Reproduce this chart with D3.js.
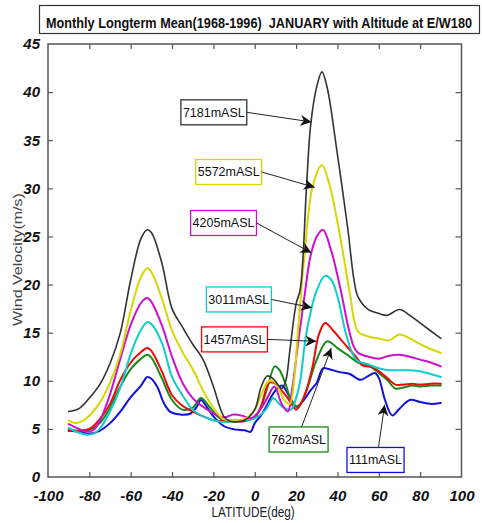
<!DOCTYPE html>
<html>
<head>
<meta charset="utf-8">
<script src="https://cdn.jsdelivr.net/npm/d3@7"></script>
<style>
  html, body { margin: 0; padding: 0; background: #fff; }
  svg { display: block; }
</style>
</head>
<body>
<svg id="chart" width="482" height="523"></svg>
<script>
// ---------- DATA ----------
const titleText = "Monthly Longterm Mean(1968-1996)  JANUARY with Altitude at E/W180";
const xLabel = "LATITUDE(deg)";
const yLabel = "Wind Velocity(m/s)";
const xTicks = [-100, -80, -60, -40, -20, 0, 20, 40, 60, 80, 100];
const yTicks = [0, 5, 10, 15, 20, 25, 30, 35, 40, 45];

const lat7181 = [-90,-85,-80,-75,-70,-65,-60,-55,-52,-50,-45,-40,-35,-30,-25,-20,-15,-12,-5,0,3,6,9,13,15,17,20,22,25,27,30,32.5,35,40,45,48,50,55,60,64,70,75,80,85,90];
const vel7181 = [6.8,7.1,8.2,9.6,11.8,15,20.5,24.8,25.7,25.4,22.3,17.5,15.6,13.8,12.2,9.4,6.3,5.8,5.9,7,9.3,10.5,10.2,9.2,10,13.2,18,19.5,30,36.5,40.6,42.1,40.5,33.5,25.8,20.5,18.7,17.4,17,16.8,17.4,16.8,16,15.2,14.4];

const lat5572 = [-90,-87,-82,-75,-70,-65,-60,-55,-52,-50,-45,-40,-35,-30,-25,-20,-15,-10,-5,0,3,7,10,12,15,17,19,21,24,28,32.5,36,40,43,46,50,55,60,65,70,75,80,85,90];
const vel5572 = [5.9,5.6,6.0,7.7,9.8,12.8,17.3,20.8,21.7,21.3,18.6,15.2,13,11.2,9,7.2,6.0,5.9,6,7,8.5,10,9.8,9,7.8,7.6,10,15.5,22.9,30.2,32.4,30.5,26.5,22.9,19.1,15.1,14.6,14.4,14.2,14.8,14.4,13.8,13.3,12.9];

const lat4205 = [-90,-85,-81,-78,-75,-70,-65,-60,-55,-52,-50,-45,-40,-35,-30,-25,-20,-15,-10,-5,-2,2,6,9.5,13,16,18,21,24,27,30,33,37,42,45,48,50,55,60,65,70,75,80,85,90];
const vel4205 = [5.5,5.0,4.7,4.9,5.8,8.6,12.3,15.8,18.1,18.6,18.2,15.8,12.5,9.8,8.2,7.3,6.6,6.2,6.5,6.3,6.1,6.8,8.2,9.4,7.6,6.8,9,14,18.7,23,25,25.7,23.5,19,15.8,13.5,12.9,12.5,12.3,12.6,12.7,12.5,12.2,11.9,11.5];

const lat3011 = [-90,-85,-81,-78,-75,-70,-65,-60,-55,-52,-50,-45,-40,-35,-30,-25,-20,-15,-10,-5,0,5,9,11,14,17.5,20,22,25,30,34,37,40,44,49,55,60,65,70,75,80,85,90];
const vel3011 = [5.1,4.6,4.4,4.5,5.0,6.8,9.3,12.8,15.3,16.1,15.9,14,10.4,8.5,7,6.3,5.9,5.7,5.8,5.9,6.1,6.9,8.2,7.8,7.2,7,8.2,10,15,19.4,20.9,20.5,18.8,15,12.2,11.7,11.3,11.1,11.1,11.1,11,10.7,10.4];

const lat1457 = [-90,-85,-80,-75,-70,-65,-60,-55,-52,-50,-45,-40,-35,-30,-25,-20,-15,-10,-5,0,3,7,10,13,16,20,22,25,28,31,34,38,42,46,50,52,57,60,64,68,72,76,80,85,90];
const vel1457 = [4.8,4.8,5.0,6.0,7.6,10.1,11.9,13.0,13.4,13.1,11,8.5,7.4,6.8,6.3,5.9,5.8,5.8,5.8,6.2,7.3,9.8,9.7,9,8.2,7,7.5,9,11.5,14.8,16,15.2,14.2,13.2,12.2,11.6,11.4,11,10.3,9.6,9.6,9.7,9.6,9.7,9.7];

const lat762 = [-90,-85,-80,-75,-70,-65,-60,-55,-52,-50,-45,-40,-35,-30,-26,-22,-18,-15,-10,-5,0,3,6,9.7,12,15,18,21,25,30,35,40,46,50,55,60,64,68,72,76,80,85,90];
const vel762 = [5.0,4.8,4.9,5.6,7.2,9.4,11.2,12.3,12.7,12.4,10.3,8.0,7.0,7.2,8.2,7.3,6.3,5.9,5.9,5.9,6.2,7.3,9.2,11.5,11.1,9.6,7.8,7.3,9,12.2,14.1,13.4,12.5,11.9,11.6,10.8,10.1,9.2,9.3,9.5,9.4,9.5,9.5];

const lat111 = [-90,-85,-80,-75,-70,-65,-60,-55,-52,-50,-47,-44,-41,-36,-31,-28,-26,-23,-20,-15,-10,-5,-2,0,3,6,9,13,17,20,23,27,30,33,36,41,46,51,55,58,60,63,66.5,70,75,80,85,90];
const vel111 = [4.8,4.7,4.5,4.8,5.6,6.8,8.3,9.5,10.4,10.2,9.3,7.7,6.8,6.5,6.6,7.3,8.0,7.2,6.3,5.3,4.95,4.85,4.7,5.6,6.4,7.5,8.7,9.5,8.3,7.3,7.8,9,9.8,11.3,11.2,10.9,10.7,10.1,10.5,10.8,10.3,8.0,6.4,7.1,8.0,7.8,7.6,7.7];

const seriesNames = ["7181mASL","5572mASL","4205mASL","3011mASL","1457mASL","762mASL","111mASL"];
const seriesLat = [lat7181, lat5572, lat4205, lat3011, lat1457, lat762, lat111];
const seriesVel = [vel7181, vel5572, vel4205, vel3011, vel1457, vel762, vel111];

// ---------- STYLE / LAYOUT ----------
const colors = ["#333333", "#d6d600", "#cc10cc", "#10cccc", "#ee0a0a", "#168a16", "#1010dd"];
const widths = [1.6, 2, 2, 2, 2, 2, 2];
const tickFont = "'Liberation Sans Narrow', 'Liberation Sans', Arial, sans-serif";

// annotation label centres and arrow tips (data coordinates)
const annotations = [
  { label: 0, cx: -19.8, cy: 37.9, tx: 27.4, ty: 36.9, from: "right" },
  { label: 1, cx: -12.6, cy: 31.7, tx: 29.0, ty: 30.1, from: "right" },
  { label: 2, cx: -15.1, cy: 26.4, tx: 27.4, ty: 23.3, from: "right" },
  { label: 3, cx: -7.7,  cy: 18.45, tx: 27.6, ty: 17.6, from: "right" },
  { label: 4, cx: -9.8,  cy: 14.3, tx: 29.8, ty: 14.1, from: "right" },
  { label: 5, cx: 21.2,  cy: 3.9,  tx: 37.0, ty: 13.4, from: "top" },
  { label: 6, cx: 58.4,  cy: 1.77, tx: 62.8, ty: 7.5,  from: "top" }
];

const svg = d3.select("#chart");
const plot = { left: 48, right: 461.5, top: 44, bottom: 477 };

const xScale = d3.scaleLinear().domain([-100, 100]).range([plot.left, plot.right]);
const yScale = d3.scaleLinear().domain([0, 45]).range([plot.bottom, plot.top]);

// title box
svg.append("rect").attr("x", 39.5).attr("y", 5.5).attr("width", 440).attr("height", 28)
  .attr("fill", "#fff").attr("stroke", "#333").attr("stroke-width", 1.2);
svg.append("text").attr("x", 46).attr("y", 28)
  .style("white-space", "pre")
  .attr("font-family", "'Liberation Sans Narrow', 'Liberation Sans', Arial, sans-serif").attr("font-weight", "bold")
  .attr("font-size", 14).attr("textLength", 426).attr("lengthAdjust", "spacingAndGlyphs")
  .attr("fill", "#111").text(titleText);

// plot frame
svg.append("rect").attr("x", plot.left).attr("y", plot.top)
  .attr("width", plot.right - plot.left).attr("height", plot.bottom - plot.top)
  .attr("fill", "none").attr("stroke", "#555").attr("stroke-width", 1.5);

// axes with inward ticks
const fmt = d => String(d);
const tickStyle = g => {
  g.select(".domain").remove();
  g.selectAll(".tick line").attr("stroke", "#555").attr("stroke-width", 1.2);
  g.selectAll("text").attr("font-family", tickFont)
    .attr("font-weight", "bold").attr("font-style", "italic").attr("font-size", 15).attr("fill", "#111");
};
const axBottom = svg.append("g").attr("transform", `translate(0,${plot.bottom})`)
  .call(d3.axisBottom(xScale).tickValues(xTicks).tickSizeInner(-5).tickSizeOuter(0).tickPadding(13).tickFormat(fmt));
tickStyle(axBottom);
axBottom.selectAll(".tick").filter(d => d === -100 || d === 100).select("line").remove();

const axTop = svg.append("g").attr("transform", `translate(0,${plot.top})`)
  .call(d3.axisTop(xScale).tickValues(xTicks.slice(1, -1)).tickSizeInner(-5).tickSizeOuter(0).tickFormat(""));
tickStyle(axTop);

const axLeft = svg.append("g").attr("transform", `translate(${plot.left},0)`)
  .call(d3.axisLeft(yScale).tickValues(yTicks).tickSizeInner(-5).tickSizeOuter(0).tickPadding(8).tickFormat(fmt));
tickStyle(axLeft);
axLeft.selectAll(".tick").filter(d => d === 0 || d === 45).select("line").remove();

const axRight = svg.append("g").attr("transform", `translate(${plot.right},0)`)
  .call(d3.axisRight(yScale).tickValues(yTicks.slice(1, -1)).tickSizeInner(-6).tickSizeOuter(0).tickFormat(""));
tickStyle(axRight);

// axis labels
svg.append("text").attr("x", xScale(-0.8)).attr("y", 517).attr("text-anchor", "middle")
  .attr("font-family", "'Liberation Sans Narrow', 'Liberation Sans', Arial, sans-serif").attr("font-size", 14)
  .attr("textLength", 83).attr("lengthAdjust", "spacingAndGlyphs").attr("fill", "#222").text(xLabel);
svg.append("text").attr("transform", `translate(22,${yScale(22.6)}) rotate(-90)`).attr("text-anchor", "middle")
  .attr("font-family", "Liberation Sans, Arial, sans-serif").attr("font-size", 12.5)
  .attr("textLength", 133).attr("lengthAdjust", "spacingAndGlyphs").attr("fill", "#444").text(yLabel);

// series lines
const line = d3.line().x(d => xScale(d[0])).y(d => yScale(d[1])).curve(d3.curveCatmullRom.alpha(0.5));
const order = [6, 5, 4, 3, 2, 1, 0];
order.forEach(i => {
  const pts = seriesLat[i].map((la, k) => [la, seriesVel[i][k]]);
  svg.append("path").datum(pts).attr("d", line).attr("fill", "none")
    .attr("stroke", colors[i]).attr("stroke-width", widths[i])
    .attr("stroke-linejoin", "round").attr("stroke-linecap", "round");
});

// arrow marker
svg.append("defs").append("marker").attr("id", "arrow").attr("viewBox", "0 0 10 10")
  .attr("refX", 10).attr("refY", 5).attr("markerWidth", 11).attr("markerHeight", 11)
  .attr("markerUnits", "userSpaceOnUse").attr("orient", "auto")
  .append("path").attr("d", "M0,0 L10,5 L0,10 L3,5 Z").attr("fill", "#111");

// annotations
annotations.forEach(a => {
  const name = seriesNames[a.label];
  const g = svg.append("g");
  const t = g.append("text").attr("x", xScale(a.cx)).attr("y", yScale(a.cy) + 4.5).attr("text-anchor", "middle")
    .attr("font-family", "Liberation Sans, Arial, sans-serif").attr("font-size", 12.5)
    .attr("fill", "#111").text(name);
  const bb = t.node().getBBox();
  const padX = 2;
  const bx = bb.x - padX, by = yScale(a.cy) - 12.5, bw = bb.width + 2 * padX, bh = 25;
  g.insert("rect", "text").attr("x", bx).attr("y", by).attr("width", bw).attr("height", bh)
    .attr("fill", "#fff").attr("stroke", colors[a.label]).attr("stroke-width", 1.3);
  let sx, sy;
  if (a.from === "right") { sx = bx + bw; sy = yScale(a.cy); }
  else { sx = xScale(a.cx) + 3; sy = by; }
  svg.append("line").attr("x1", sx).attr("y1", sy).attr("x2", xScale(a.tx)).attr("y2", yScale(a.ty))
    .attr("stroke", "#222").attr("stroke-width", 1).attr("marker-end", "url(#arrow)");
});
</script>
</body>
</html>
